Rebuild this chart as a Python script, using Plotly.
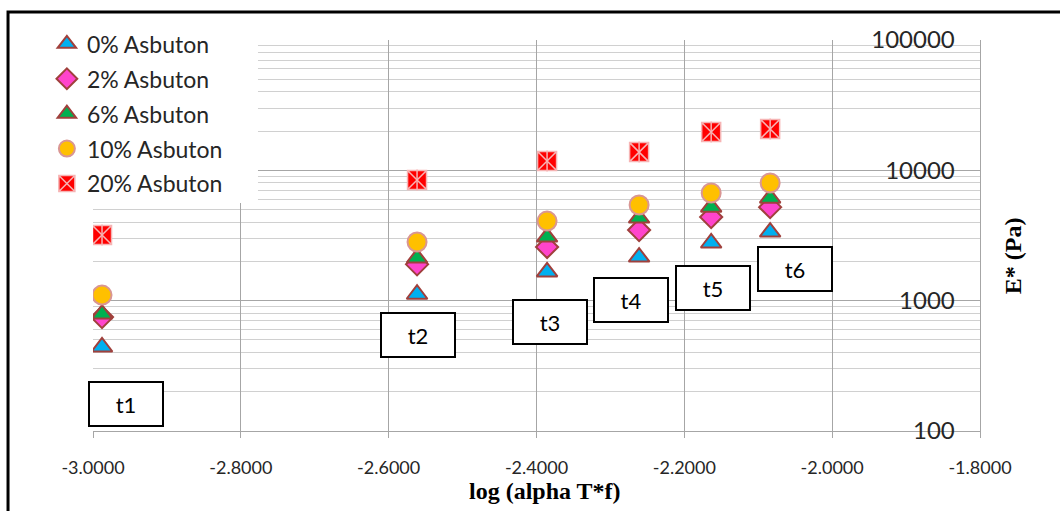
import plotly.graph_objects as go

# ---- data ----
x_vals = [-2.9878, -2.5616, -2.3857, -2.2612, -2.1637, -2.0839]
e_0 = [441, 1120, 1660, 2160, 2770, 3360]
e_2 = [748, 1900, 2580, 3480, 4380, 5220]
e_6 = [789, 2122, 3076, 4300, 5220, 6120]
e_10 = [1104, 2818, 4080, 5420, 6700, 8000]
e_20 = [3190, 8440, 11780, 13800, 19700, 20750]
series_names = ["0% Asbuton", "2% Asbuton", "6% Asbuton", "10% Asbuton", "20% Asbuton"]
box_labels = ["t1", "t2", "t3", "t4", "t5", "t6"]
x_ticks = [-3.0, -2.8, -2.6, -2.4, -2.2, -2.0, -1.8]
y_ticks = [100, 1000, 10000, 100000]

# ---- styling ----
edge = "#a0403c"
styles = [
    dict(symbol="triangle-up", color="#00b0f0", line=dict(color=edge, width=2), size=18),
    dict(symbol="diamond", color="#ff44cc", line=dict(color=edge, width=2), size=17),
    dict(symbol="triangle-up", color="#00b050", line=dict(color=edge, width=2), size=18),
    dict(symbol="circle", color="#ffc000", line=dict(color="#d99694", width=2), size=19),
    dict(symbol="square-x", color="#ff0000", line=dict(color="#f6b4b4", width=1.5), size=19),
]
series = [e_0, e_2, e_6, e_10, e_20]

fig = go.Figure()
for i, (name, ys, st) in enumerate(zip(series_names, series, styles)):
    fig.add_trace(go.Scatter(x=x_vals, y=ys, mode="markers", name=name, marker=st,
                             legendgroup=f"g{i}"))
# vertical stroke of the asterisk on the 20% markers
fig.add_trace(go.Scatter(x=x_vals, y=e_20, mode="markers", showlegend=False, hoverinfo="skip",
                         marker=dict(symbol="line-ns", size=15, line=dict(color="#f6b4b4", width=1.5))))

annotations = [
    dict(text="<b>log (alpha T*f)</b>", xref="paper", yref="paper", x=0.5096, y=-0.192,
         showarrow=False, font=dict(family="Liberation Serif", size=24, color="#000000")),
    dict(text="<b>E* (Pa)</b>", xref="paper", yref="paper", x=1.0543, y=0.4476,
         textangle=-90, showarrow=False,
         font=dict(family="Liberation Serif", size=24, color="#000000")),
]
# label boxes (layout positions: x in data units, y in log10 units)
box_pos = [(-2.9547, 2.2065), (-2.5602, 2.740), (-2.3823, 2.836),
           (-2.2720, 3.005), (-2.1610, 3.1006), (-2.0500, 3.2425)]
for lab, (bx, by) in zip(box_labels, box_pos):
    annotations.append(dict(x=bx, y=by, xref="x", yref="y", text=lab, showarrow=False,
                            font=dict(family="Lato", size=22, color="#000000"),
                            bgcolor="white", bordercolor="black", borderwidth=2,
                            width=70, height=40))

minor_vals = [m * d for d in [100, 1000, 10000] for m in range(2, 10)]

fig.update_layout(
    width=1060, height=511,
    margin=dict(l=93, r=80, t=40, b=80),
    paper_bgcolor="white", plot_bgcolor="white",
    font=dict(family="Lato", color="#262626"),
    showlegend=True,
    legend=dict(x=-0.052, y=1.045, xanchor="left", yanchor="top",
                bgcolor="rgba(0,0,0,0)", font=dict(family="Lato", size=23, color="#262626"),
                itemsizing="trace", tracegroupgap=2),
    xaxis=dict(range=[-3.0, -1.8], tickvals=x_ticks,
               ticktext=[f"{v:.4f}" for v in x_ticks],
               showgrid=True, gridcolor="#a6a6a6", gridwidth=1,
               showline=True, linecolor="#a6a6a6", linewidth=1,
               ticks="outside", ticklen=6, tickcolor="#a6a6a6", ticklabelstandoff=14,
               tickfont=dict(family="Lato", size=18, color="#262626"),
               zeroline=False),
    yaxis=dict(type="log", range=[2, 5], side="right", tickvals=y_ticks,
               ticktext=[str(v) for v in y_ticks],
               ticklabelposition="inside", ticklabelstandoff=27, ticklabeloverflow="allow",
               showgrid=True, gridcolor="#a6a6a6", gridwidth=1,
               minor=dict(tickvals=minor_vals, showgrid=True, gridcolor="#d0d0d0", gridwidth=1),
               showline=True, linecolor="#a6a6a6", linewidth=1,
               tickfont=dict(family="Lato", size=24, color="#262626"),
               zeroline=False),
    shapes=[
        # white panel behind legend
        dict(type="rect", xref="paper", yref="paper", x0=-0.0485, x1=0.186, y0=0.583, y1=1.038,
             fillcolor="white", line=dict(width=0), layer="above"),
        # outer frame
        dict(type="rect", xref="paper", yref="paper", x0=-0.0958, x1=1.3, y0=-0.4, y1=1.0716,
             fillcolor="rgba(0,0,0,0)", line=dict(color="black", width=3), layer="above"),
    ],
    annotations=annotations,
)

fig.write_html("out.html")
